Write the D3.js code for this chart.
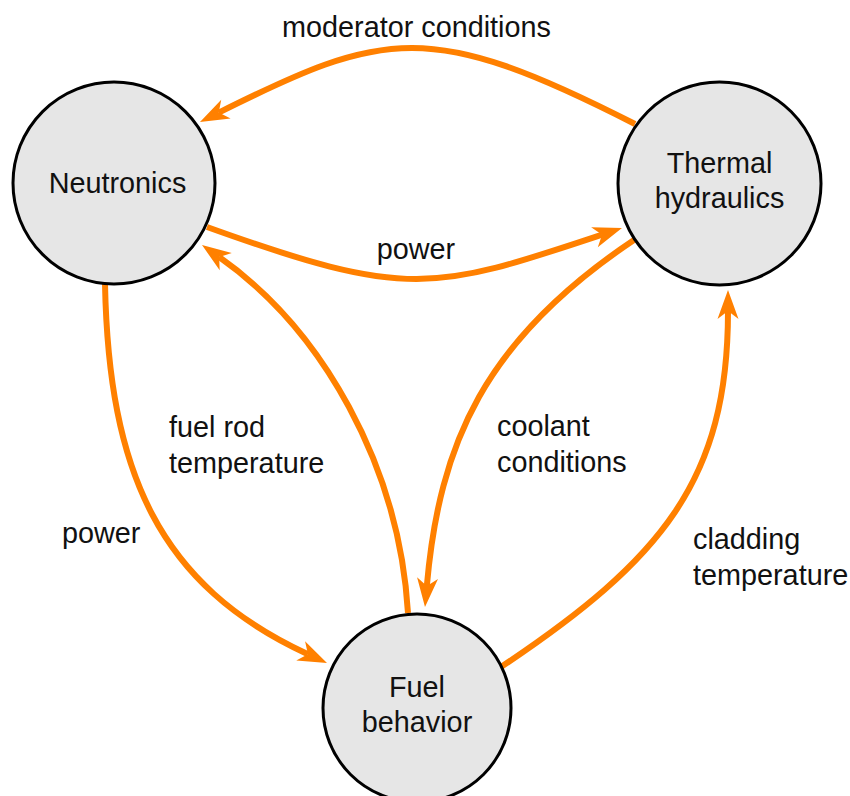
<!DOCTYPE html>
<html>
<head>
<meta charset="utf-8">
<script src="https://cdn.jsdelivr.net/npm/d3@7"></script>
<style>
  body { margin: 0; background: #fff; }
  text { font-family: "Liberation Sans", Arial, sans-serif; font-size: 28.8px; fill: #111; }
</style>
</head>
<body>
<div id="chart"></div>
<script>
const width = 850;
const height = 796;
const orange = '#ff8000';
const arrowLen = 21;

// nodes: name lines, centre, radius
const nodeNames = [['Neutronics'], ['Thermal', 'hydraulics'], ['Fuel', 'behavior']];
const nodeCenters = [[114, 183], [719.5, 183.5], [417, 708]];
const nodeRadii = [101, 101.5, 94];
const nodeLabelDx = [3.5, 0, 0];

// edges: start point + direction, middle point, arrow tip + direction
const edgeStarts = [[635, 124], [207, 227], [105, 284], [408, 613], [634, 240], [501, 667]];
const edgeStartDirs = [[-0.891, -0.455], [0.941, 0.339], [0.02, 1], [-0.06, -0.998], [-0.832, 0.555], [0.832, -0.555]];
const edgeMids = [[412, 48], [418, 279], [152, 514], [349, 407], [479, 397], [675, 512]];
const edgeTips = [[200, 122], [622, 228], [327, 663], [202, 245], [425, 607], [728, 290]];
const edgeTipDirs = [[-0.894, 0.447], [0.949, -0.316], [0.908, 0.419], [-0.818, -0.575], [-0.087, 0.996], [0, -1]];

const edgeLabels = [
  ['moderator conditions'], ['power'], ['power'],
  ['fuel rod', 'temperature'], ['coolant', 'conditions'], ['cladding', 'temperature']
];
const edgeLabelPos = [[416.5, 37], [416, 259], [62, 543], [169, 437], [497, 436], [693, 549]];
const edgeLabelAnchor = ['middle', 'middle', 'start', 'start', 'start', 'start'];

// cubic through start, mid (t = 0.5) and the arrow base, tangent to the given directions
function edgePath(i) {
  const p0 = edgeStarts[i], d0 = edgeStartDirs[i];
  const d3 = edgeTipDirs[i];
  const p3 = [edgeTips[i][0] - arrowLen * d3[0], edgeTips[i][1] - arrowLen * d3[1]];
  const m = edgeMids[i];
  // h0*d0 - h3*d3 = 8/3 * (m - (p0+p3)/2)
  const rx = 8 / 3 * (m[0] - (p0[0] + p3[0]) / 2);
  const ry = 8 / 3 * (m[1] - (p0[1] + p3[1]) / 2);
  const det = d0[0] * (-d3[1]) - (-d3[0]) * d0[1];
  const h0 = (rx * (-d3[1]) - (-d3[0]) * ry) / det;
  const h3 = (d0[0] * ry - d0[1] * rx) / det;
  const p = d3path();
  p.moveTo(p0[0], p0[1]);
  p.bezierCurveTo(p0[0] + h0 * d0[0], p0[1] + h0 * d0[1],
                  p3[0] - h3 * d3[0], p3[1] - h3 * d3[1],
                  p3[0], p3[1]);
  return p.toString();
}
const d3path = d3.path;

const svg = d3.select('#chart')
  .append('svg')
  .attr('width', width)
  .attr('height', height);

svg.append('defs')
  .append('marker')
  .attr('id', 'arrow')
  .attr('markerUnits', 'userSpaceOnUse')
  .attr('markerWidth', 40)
  .attr('markerHeight', 40)
  .attr('refX', 0)
  .attr('refY', 0)
  .attr('viewBox', '-10 -20 40 40')
  .attr('orient', 'auto')
  .style('overflow', 'visible')
  .append('path')
  .attr('d', 'M21,0 L-8,-10.5 L0,0 L-8,10.5 Z')
  .attr('fill', orange);

svg.selectAll('path.edge')
  .data(edgeStarts)
  .enter()
  .append('path')
  .attr('class', 'edge')
  .attr('d', (d, i) => edgePath(i))
  .attr('fill', 'none')
  .attr('stroke', orange)
  .attr('stroke-width', 6)
  .attr('marker-end', 'url(#arrow)');

svg.selectAll('text.elabel')
  .data(edgeLabels)
  .enter()
  .append('text')
  .attr('class', 'elabel')
  .attr('text-anchor', (d, i) => edgeLabelAnchor[i])
  .each(function(d, i) {
    d3.select(this).selectAll('tspan')
      .data(d)
      .enter()
      .append('tspan')
      .attr('x', edgeLabelPos[i][0])
      .attr('y', (t, j) => edgeLabelPos[i][1] + j * 36)
      .text(t => t);
  });

const nodes = svg.selectAll('g.node')
  .data(nodeNames)
  .enter()
  .append('g')
  .attr('class', 'node')
  .attr('transform', (d, i) => `translate(${nodeCenters[i][0]},${nodeCenters[i][1]})`);

nodes.append('circle')
  .attr('r', (d, i) => nodeRadii[i])
  .attr('fill', '#e6e6e6')
  .attr('stroke', '#000')
  .attr('stroke-width', 3);

nodes.append('text')
  .attr('text-anchor', 'middle')
  .each(function(d, i) {
    const n = d.length;
    d3.select(this).selectAll('tspan')
      .data(d)
      .enter()
      .append('tspan')
      .attr('x', nodeLabelDx[i])
      .attr('y', (t, j) => 10 + (j - (n - 1) / 2) * 35 - (n > 1 ? 3.5 : 0))
      .text(t => t);
  });
</script>
</body>
</html>
